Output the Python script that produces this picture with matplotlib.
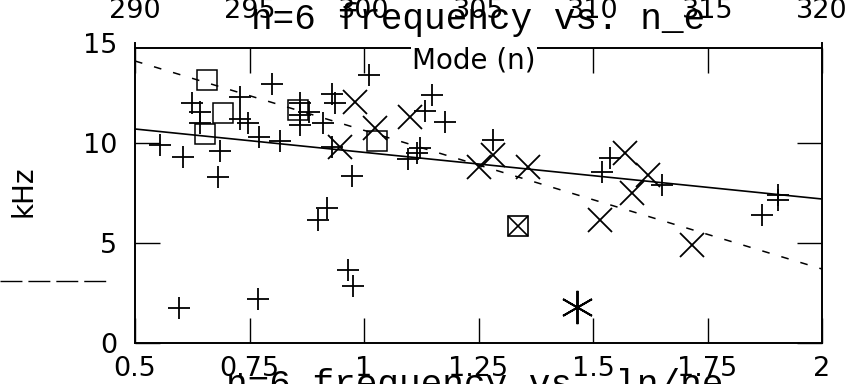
import matplotlib
matplotlib.use("Agg")
import matplotlib.pyplot as plt
from matplotlib.lines import Line2D

# ---------------- data ----------------
plus_x = [0.555, 0.605, 0.596, 0.624, 0.642, 0.642, 0.686, 0.682, 0.73, 0.73,
          0.747, 0.769, 0.77, 0.80, 0.816, 0.86, 0.86, 0.86, 0.88, 0.91,
          0.90, 0.92, 0.93, 0.937, 0.93, 0.965, 0.976, 0.974, 1.012, 1.096,
          1.116, 1.122, 1.133, 1.148, 1.177, 1.282, 1.52, 1.537, 1.65, 1.87,
          1.904, 1.904]
plus_y = [9.9, 9.3, 1.75, 12.0, 11.55, 11.0, 9.6, 8.3, 12.3, 11.2,
          11.0, 2.2, 10.3, 12.95, 10.1, 12.0, 11.4, 10.9, 11.55, 11.0,
          6.15, 6.75, 12.45, 12.0, 9.8, 3.65, 2.85, 8.35, 13.4, 9.2,
          9.5, 9.75, 11.6, 12.4, 11.05, 10.15, 8.55, 9.25, 7.9, 6.4,
          7.4, 7.15]

cross_x = [0.98, 1.024, 0.948, 1.10, 1.25, 1.282, 1.358, 1.515, 1.57, 1.585, 1.62, 1.716]
cross_y = [12.05, 10.75, 9.8, 11.3, 8.8, 9.4, 8.8, 6.15, 9.5, 7.5, 8.4, 4.9]

square_x = [0.657, 0.692, 0.653, 0.856, 1.028]
square_y = [13.15, 11.5, 10.45, 11.65, 10.1]

boxx_x = [1.336]
boxx_y = [5.85]

star_x = [1.465]
star_y = [1.8]

fit_x = [0.5, 2.0]
fit_solid_y = [10.7, 7.2]
fit_dash_y = [14.1, 3.7]

xticks = [0.5, 0.75, 1.0, 1.25, 1.5, 1.75, 2.0]
xticklabels = ["0.5", "0.75", "1", "1.25", "1.5", "1.75", "2"]
yticks = [0, 5, 10, 15]
yticklabels = ["0", "5", "10", "15"]
mode_ticks = [290, 295, 300, 305, 310, 315, 320]
mode_labels = ["290", "295", "300", "305", "310", "315", "320"]

title_top = "n=6 frequency vs. n_e"
title_bottom = "n=6 frequency vs. ln/ne"
ylabel = "kHz"
mode_label = "Mode (n)"

# ---------------- figure ----------------
W, H = 856, 384
fig = plt.figure(figsize=(W / 100, H / 100), dpi=100)
fig.patch.set_facecolor("white")

L, B, Wd, Ht = 135 / W, 41 / H, 687 / W, 300 / H
ax = fig.add_axes([L, B, Wd, Ht])
ax.set_xlim(0.5, 2.0)
ax.set_ylim(0, 15)
ax.spines["top"].set_position(("data", 14.75))
for s in ax.spines.values():
    s.set_linewidth(1.4)
    s.set_color("black")

ms_plus = 16.5
mew = 1.3
ax.plot(plus_x, plus_y, ls="none", marker="+", ms=ms_plus, mew=mew, color="black")
ax.plot(cross_x, cross_y, ls="none", marker="x", ms=17, mew=mew, color="black")
ax.plot(square_x, square_y, ls="none", marker="s", ms=14, mew=1.1,
        mfc="none", mec="black")
ax.plot(boxx_x, boxx_y, ls="none", marker="s", ms=15, mew=1.2, mfc="none", mec="black")
ax.plot(boxx_x, boxx_y, ls="none", marker="x", ms=15, mew=1.2, color="black")
ax.plot(star_x, star_y, ls="none", marker=(6, 2, 0), ms=24, mew=1.4, color="black")

ax.plot(fit_x, fit_solid_y, color="black", lw=1.2, solid_capstyle="butt")
ax.plot(fit_x, fit_dash_y, color="black", lw=1.1, ls=(0, (5, 8)))

ax.set_xticks(xticks)
ax.set_xticklabels(xticklabels)
ax.set_yticks(yticks)
ax.set_yticklabels(yticklabels)
ax.tick_params(axis="both", direction="in", length=18, width=1.0,
               top=True, right=True, labelsize=19.5, colors="black")
ax.tick_params(axis="x", pad=9)
ax.tick_params(axis="y", pad=13)
yt = ax.yaxis.get_major_ticks()
yt[-1].tick1line.set_visible(False)
yt[-1].tick2line.set_visible(False)

# secondary "Mode (n)" tick labels cut off at the top of the figure
ax_top = fig.add_axes([L, (H + 5) / H, Wd, 0.0001])
ax_top.set_xlim(290, 320)
ax_top.set_xticks(mode_ticks)
ax_top.set_xticklabels(mode_labels)
ax_top.set_yticks([])
for s in ax_top.spines.values():
    s.set_visible(False)
ax_top.patch.set_visible(False)
ax_top.tick_params(axis="x", length=0, pad=2, labelsize=19.5)

# texts
fig.text(478 / W, 1 - 29 / H, title_top, ha="center", va="baseline",
         family="Liberation Mono", fontsize=26)
fig.text(475 / W, 1 - 368 / H, title_bottom, ha="center", va="top",
         family="Liberation Mono", fontsize=26)
fig.text(474 / W, 1 - 68 / H, mode_label, ha="center", va="baseline",
         fontsize=20, bbox=dict(facecolor="white", edgecolor="none", pad=0.5))
fig.text(24 / W, 1 - 191 / H, ylabel, ha="center", va="center",
         rotation=90, fontsize=20)

# stray dashed legend line at the left
fig.add_artist(Line2D([0 / W, 108 / W], [1 - 281 / H, 1 - 281 / H],
                      transform=fig.transFigure, color="black", lw=1.0,
                      ls=(0, (15.8, 4.3))))

fig.savefig("out.png", dpi=100)
